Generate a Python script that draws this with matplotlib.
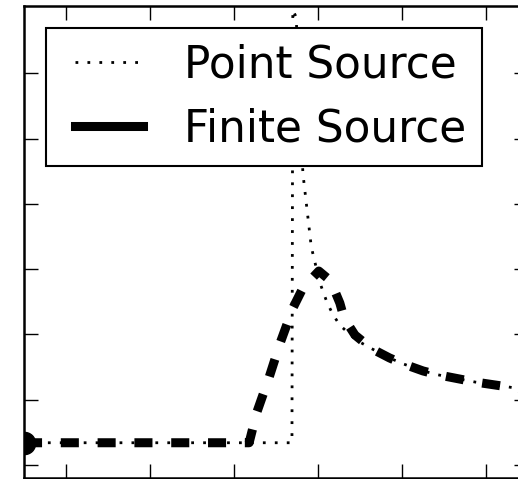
import matplotlib
matplotlib.use('Agg')
import matplotlib.pyplot as plt
from matplotlib.lines import Line2D

plt.rcParams['lines.scale_dashes'] = False

# Point source response
point_x = [0.5, 3.69, 3.70, 3.74, 3.82, 3.92, 4.02, 4.11, 4.18, 4.26, 4.46,
           4.64, 4.85, 5.01, 5.25, 5.43, 5.67, 5.87, 6.08, 6.5]
point_y = [0.34, 0.34, 6.97, 6.86, 4.47, 3.34, 2.80, 2.48, 2.30, 2.14, 1.91,
           1.78, 1.64, 1.55, 1.44, 1.38, 1.32, 1.27, 1.23, 1.15]

# Finite source response
finite_x = [0.5, 3.18, 3.27, 3.42, 3.55, 3.70, 3.82, 4.01, 4.15, 4.26, 4.31,
            4.44, 4.64, 4.85, 5.01, 5.25, 5.43, 5.67, 5.87, 6.08, 6.5]
finite_y = [0.34, 0.34, 0.80, 1.35, 1.87, 2.40, 2.71, 2.97, 2.82, 2.48, 2.25,
            1.99, 1.78, 1.64, 1.55, 1.44, 1.38, 1.32, 1.27, 1.23, 1.15]

labels = ['Point Source', 'Finite Source']

fig = plt.figure(figsize=(5.18, 4.79), dpi=100)
ax = fig.add_axes([24 / 518, 1 / 479, 504 / 518, 472 / 479])

dot_style = dict(color='black', lw=2.0, linestyle=(0, (2.0, 6.6)))
ax.plot(point_x, point_y, **dot_style)
ax.plot(finite_x, finite_y, color='black', lw=6.5, linestyle=(0, (13, 13.5)),
        marker='o', markevery=[0], markersize=16)

ax.set_xlim(0.5, 6.5)
ax.set_ylim(-0.2, 7.03)
ax.set_xticks(range(1, 7))
ax.set_yticks(range(0, 7))
ax.tick_params(direction='in', length=10, width=1.0, top=True, right=True,
               labelbottom=False, labelleft=False)
for sp in ax.spines.values():
    sp.set_linewidth(1.8)

handles = [Line2D([], [], **dot_style),
           Line2D([], [], color='black', lw=6.5)]
leg = ax.legend(handles, labels, loc='upper left', fontsize=31.5, numpoints=2,
                handlelength=2.15, handletextpad=0.65, borderpad=0.36,
                labelspacing=0.47, borderaxespad=0.5,
                fancybox=False, framealpha=1)
leg.get_frame().set_edgecolor('black')
leg.get_frame().set_linewidth(1.5)

fig.savefig('out.png', dpi=100)
